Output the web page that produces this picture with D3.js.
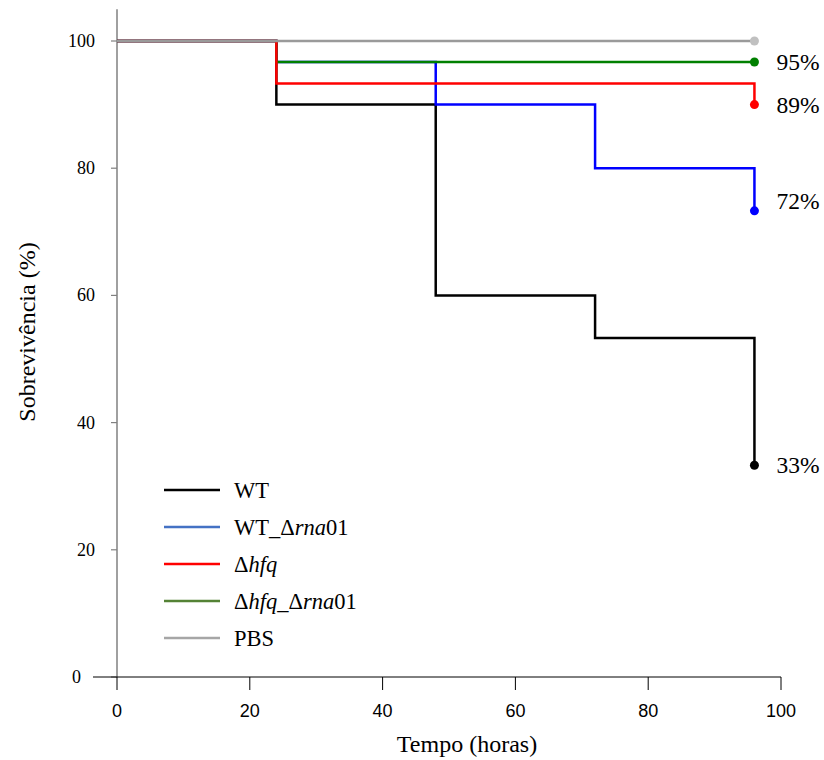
<!DOCTYPE html>
<html>
<head>
<meta charset="utf-8">
<script src="https://cdn.jsdelivr.net/npm/d3@7"></script>
<style>
  body { margin: 0; background: #fff; }
  svg { display: block; }
  .serif { font-family: 'Liberation Serif', 'Times New Roman', serif; }
  .sans { font-family: 'Liberation Sans', Arial, sans-serif; }
</style>
</head>
<body>
<script>
// survival curves (Kaplan-Meier style)

const w = 824, h = 760;

const times = [0, 24, 48, 72, 96];
const wt = [100, 90, 60, 53.3, 33.3];
const wtRna = [100, 96.7, 90, 80, 73.3];
const hfq = [100, 93.3, 93.3, 93.3, 90];
const hfqRna = [100, 96.7, 96.7, 96.7, 96.7];
const pbs = [100, 100, 100, 100, 100];

const endLabels = ['33%', '72%', '89%', '95%', ''];
const xTicks = [0, 20, 40, 60, 80, 100];
const yTicks = [0, 20, 40, 60, 80, 100];

// legend text parts: [text, italic]
const legendParts = [
    [['WT', false]],
    [['WT_\u0394', false], ['rna', true], ['01', false]],
    [['\u0394', false], ['hfq', true]],
    [['\u0394', false], ['hfq', true], ['_\u0394', false], ['rna', true], ['01', false]],
    [['PBS', false]]
];

const series = [
    { vals: wt, line: '#000000', dot: '#000000', legend: '#000000', ldy: 0, z: 0 },
    { vals: wtRna, line: '#0000ff', dot: '#0000ff', legend: '#4472c4', ldy: -10, z: 1 },
    { vals: hfq, line: '#ff0000', dot: '#ff0000', legend: '#ff0000', ldy: 0, z: 3 },
    { vals: hfqRna, line: '#008000', dot: '#008000', legend: '#548235', ldy: 0, z: 2 },
    { vals: pbs, line: '#9a9a9a', dot: '#c0c0c0', legend: '#a6a6a6', ldy: 0, z: 4 }
];
const drawOrder = series.slice().sort((a, b) => a.z - b.z);

const svg = d3.select('body').append('svg').attr('width', w).attr('height', h);

const x = d3.scaleLinear().domain([0, 100]).range([117, 781]);
const y = d3.scaleLinear().domain([0, 100]).range([677, 41]);

// y axis
const yAxis = svg.append('g').attr('transform', 'translate(117,0)');
yAxis.append('line')
    .attr('x1', 0).attr('x2', 0)
    .attr('y1', y(0)).attr('y2', y(105))
    .attr('stroke', '#808080').attr('stroke-width', 1.5);
yAxis.selectAll('.yt').data(yTicks).enter().append('line')
    .attr('x1', -6).attr('x2', 0)
    .attr('y1', d => y(d)).attr('y2', d => y(d))
    .attr('stroke', '#808080').attr('stroke-width', 1.2);
yAxis.selectAll('.yl').data(yTicks).enter().append('text')
    .attr('class', 'serif')
    .text(d => d)
    .attr('x', d => d === 0 ? -36 : -22)
    .attr('y', d => y(d))
    .attr('dy', '0.33em')
    .attr('text-anchor', 'end')
    .attr('font-size', '18px')
    .attr('fill', '#000');

// x axis
const xAxis = svg.append('g').attr('transform', 'translate(0,' + y(0) + ')');
xAxis.append('line')
    .attr('x1', 93).attr('x2', x(100))
    .attr('y1', 0).attr('y2', 0)
    .attr('stroke', '#000').attr('stroke-width', 1);
xAxis.selectAll('.xt').data(xTicks).enter().append('line')
    .attr('x1', d => x(d)).attr('x2', d => x(d))
    .attr('y1', 0).attr('y2', 13)
    .attr('stroke', '#000').attr('stroke-width', 1);
xAxis.selectAll('.xl').data(xTicks).enter().append('text')
    .attr('class', 'sans')
    .text(d => d)
    .attr('x', d => x(d))
    .attr('y', 40)
    .attr('text-anchor', 'middle')
    .attr('font-size', '18px')
    .attr('fill', '#000');

// axis titles
svg.append('text')
    .attr('class', 'serif')
    .text('Tempo (horas)')
    .attr('x', 467).attr('y', 752)
    .attr('text-anchor', 'middle')
    .attr('font-size', '24px');

svg.append('text')
    .attr('class', 'serif')
    .text('Sobrevivência (%)')
    .attr('transform', 'translate(35,332) rotate(-90)')
    .attr('text-anchor', 'middle')
    .attr('font-size', '24px');

// curves
const line = d3.line()
    .x((d, i) => x(times[i]))
    .y(d => y(d))
    .curve(d3.curveStepAfter);

svg.selectAll('.curve').data(drawOrder).enter().append('path')
    .attr('d', d => line(d.vals))
    .attr('fill', 'none')
    .attr('stroke', d => d.line)
    .attr('stroke-width', 2.5);

const last = times.length - 1;

svg.selectAll('.dot').data(drawOrder).enter().append('circle')
    .attr('cx', x(times[last]))
    .attr('cy', d => y(d.vals[last]))
    .attr('r', 4.5)
    .attr('fill', d => d.dot);

svg.selectAll('.endlab').data(series).enter().append('text')
    .attr('class', 'serif')
    .text((d, i) => endLabels[i])
    .attr('x', x(times[last]) + 22)
    .attr('y', d => y(d.vals[last]) + d.ldy)
    .attr('dy', '0.35em')
    .attr('font-size', '23.5px');

// legend
const legend = svg.append('g');
const rows = legend.selectAll('.row').data(series).enter().append('g')
    .attr('transform', (d, i) => 'translate(164,' + (490 + i * 37) + ')');

rows.append('line')
    .attr('x1', 0).attr('x2', 56)
    .attr('y1', 0).attr('y2', 0)
    .attr('stroke', d => d.legend)
    .attr('stroke-width', 2.5);

rows.append('text')
    .attr('class', 'serif')
    .attr('x', 70)
    .attr('y', 0)
    .attr('dy', '0.35em')
    .attr('font-size', '22.5px')
    .each(function (d, i) {
        const t = d3.select(this);
        legendParts[i].forEach(p => {
            t.append('tspan')
                .text(p[0])
                .attr('font-style', p[1] ? 'italic' : 'normal');
        });
    });
</script>
</body>
</html>
